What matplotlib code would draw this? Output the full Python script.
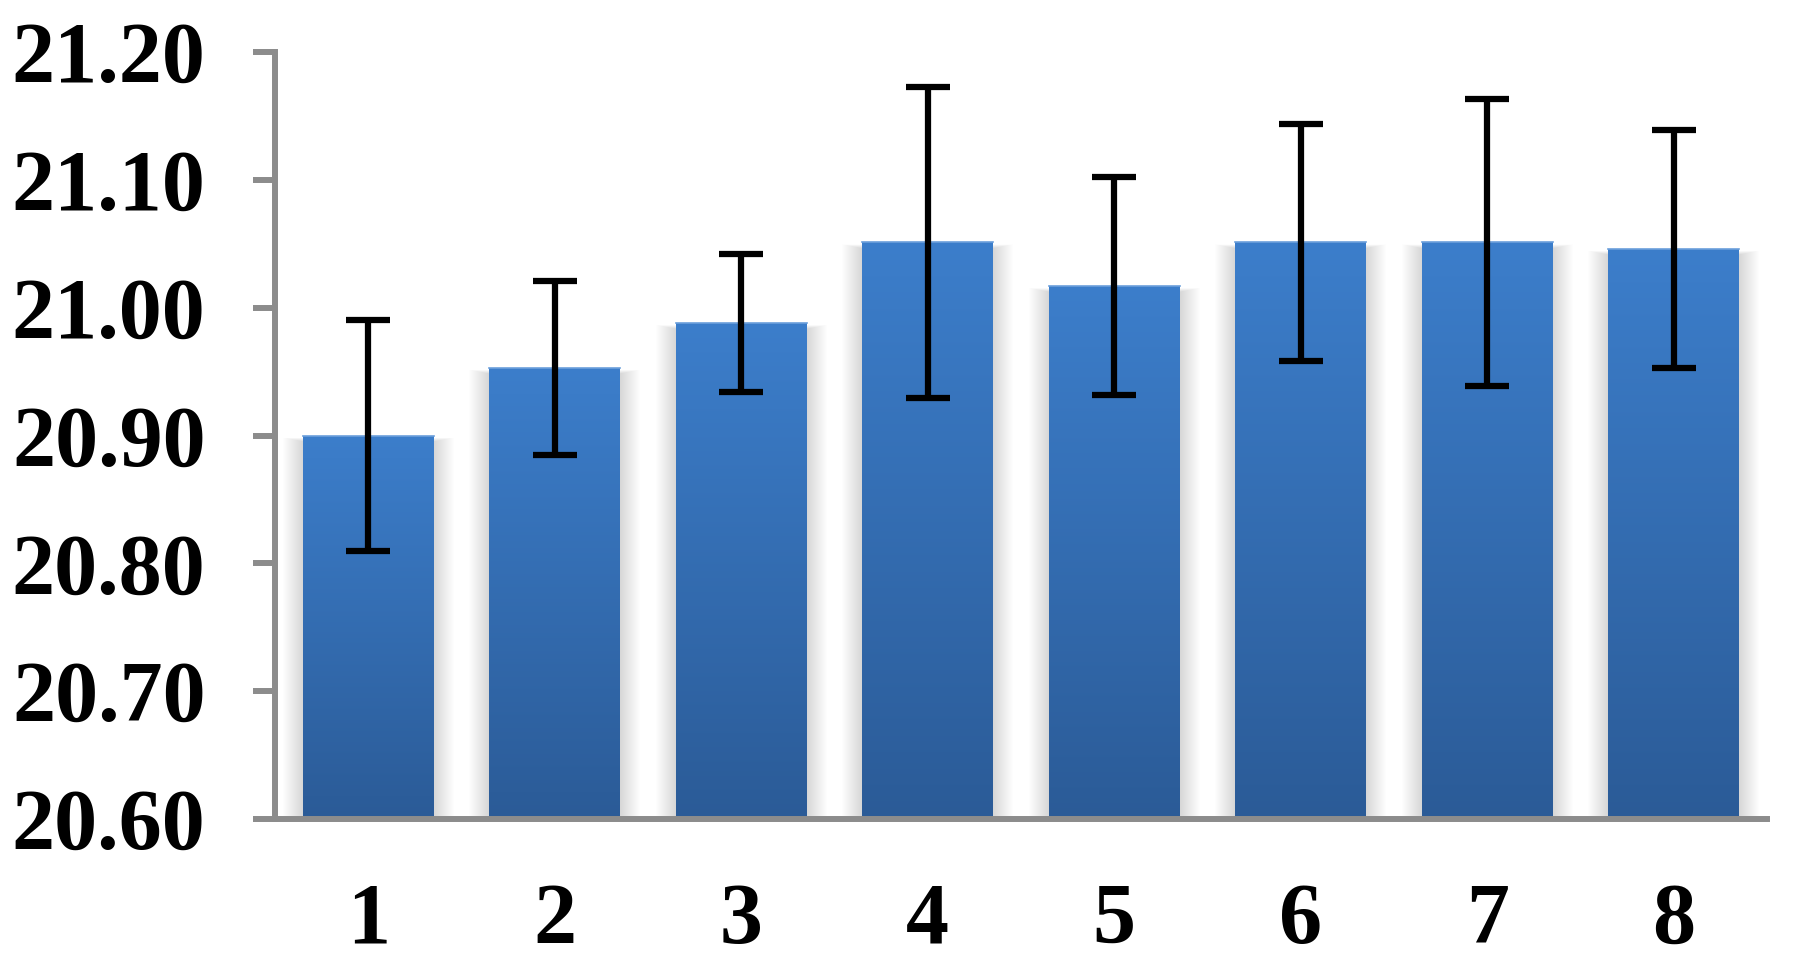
import matplotlib
matplotlib.use("Agg")
import matplotlib.pyplot as plt
import numpy as np
from matplotlib.patches import Rectangle
from matplotlib.colors import LinearSegmentedColormap

categories = ["1", "2", "3", "4", "5", "6", "7", "8"]
values = [20.900, 20.953, 20.988, 21.051, 21.017, 21.051, 21.051, 21.046]
errors = [0.090, 0.068, 0.054, 0.122, 0.085, 0.093, 0.112, 0.093]
y_ticks = [20.60, 20.70, 20.80, 20.90, 21.00, 21.10, 21.20]
y_tick_labels = ["20.60", "20.70", "20.80", "20.90", "21.00", "21.10", "21.20"]

W, H = 1801, 965
fig = plt.figure(figsize=(W / 100, H / 100), dpi=100)
ax = fig.add_axes([275 / W, 1 - 819 / H, (1767 - 275) / W, (819 - 52) / H])

ymin, ymax = 20.60, 21.20
ax.set_xlim(-0.5, len(categories) - 0.5)
ax.set_ylim(ymin, ymax)

bar_w = 0.70
x = np.arange(len(categories))

# pixel sizes in data units
px_x = (len(categories)) / (1767 - 275)
px_y = (ymax - ymin) / (819 - 52)

# soft shadows
nlay = 20
for xi, v in zip(x, values):
    for d in range(1, nlay + 1):
        ax.add_patch(Rectangle((xi - bar_w / 2 - d * px_x, ymin),
                               bar_w + 2 * d * px_x,
                               (v - ymin) + d * 0.2 * px_y - 6 * px_y,
                               facecolor="black", edgecolor="none",
                               alpha=0.009, zorder=1))

# gradient bars
cmap = LinearSegmentedColormap.from_list("blu", ["#2B5B97", "#3C7ECB"])
grad = np.linspace(0, 1, 256).reshape(-1, 1)
bars = ax.bar(x, [v - ymin for v in values], bottom=ymin, width=bar_w,
              color="#3A7BC8", edgecolor="none", zorder=2)
for b, v in zip(bars, values):
    x0 = b.get_x()
    im = ax.imshow(grad, cmap=cmap, origin="lower", aspect="auto",
                   extent=(x0, x0 + bar_w, ymin, v), zorder=3,
                   interpolation="bilinear")
    im.set_clip_path(b)
    ax.plot([x0, x0 + bar_w], [v, v], color="#6C9FDB", lw=1.2, zorder=3.5)

ax.set_xlim(-0.5, len(categories) - 0.5)
ax.set_ylim(ymin, ymax)

ax.errorbar(x, values, yerr=errors, fmt="none", ecolor="black",
            elinewidth=4.5, capsize=15.5, capthick=4.5, zorder=5)

for s in ["top", "right"]:
    ax.spines[s].set_visible(False)
axis_col = "#8C8C8C"
for s in ["left", "bottom"]:
    ax.spines[s].set_color(axis_col)
    ax.spines[s].set_linewidth(4.3)
    ax.spines[s].set_zorder(6)

ax.set_yticks(y_ticks)
ax.set_yticklabels(y_tick_labels)
ax.set_xticks(x)
ax.set_xticklabels(categories)

for lab in ax.get_yticklabels() + ax.get_xticklabels():
    lab.set_fontfamily(["Liberation Serif", "DejaVu Serif"])
    lab.set_fontweight("bold")
    lab.set_fontsize(62)
    lab.set_color("black")

ax.tick_params(axis="y", direction="out", length=16, width=4.3,
               color=axis_col, pad=34)
ax.tick_params(axis="x", length=0, pad=46)

fig.savefig("out.png", dpi=100, facecolor="white")
